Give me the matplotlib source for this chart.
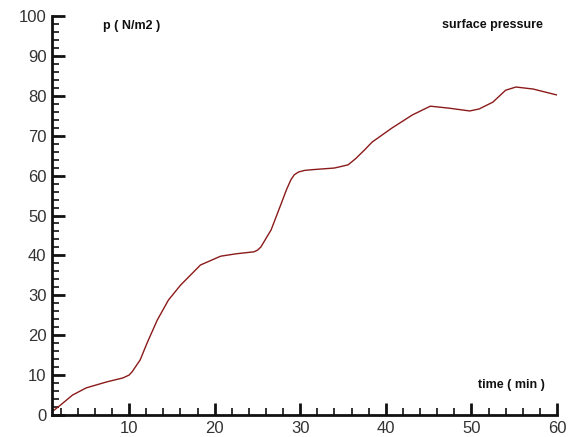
import matplotlib
matplotlib.use("Agg")
import matplotlib.pyplot as plt
from matplotlib.ticker import MultipleLocator

time_min = [1.0, 2.0, 3.4, 5.0, 7.4, 9.3, 10.0, 10.35, 11.3, 12.1, 13.3, 14.6, 16.0, 18.35,
            20.7, 22.5, 24.6, 25.0, 25.4, 26.6, 27.8, 28.4, 28.9, 29.3, 29.8, 30.5, 31.5,
            34.0, 35.6, 36.5, 37.5, 38.4, 40.7, 43.1, 45.2, 47.4, 49.8, 50.9, 52.5, 54.0,
            55.2, 57.2, 60.0]
pressure = [0.8, 2.5, 5.0, 6.8, 8.3, 9.3, 10.0, 10.8, 13.8, 18.0, 23.8, 28.8, 32.5, 37.6,
            39.8, 40.4, 40.9, 41.3, 42.1, 46.4, 53.1, 56.5, 58.9, 60.2, 60.9, 61.3, 61.5,
            61.9, 62.7, 64.3, 66.4, 68.4, 71.9, 75.2, 77.4, 76.9, 76.2, 76.7, 78.4, 81.4,
            82.2, 81.7, 80.2]

fig = plt.figure(figsize=(5.69, 4.37), dpi=100)
ax = fig.add_axes([52/569, (437-415)/437, (557-52)/569, (415-16)/437])
ax.plot(time_min, pressure, color="#8b1a1a", linewidth=1.0)

ax.set_xlim(1, 60)
ax.set_ylim(0, 100)
ax.xaxis.set_major_locator(MultipleLocator(10))
ax.xaxis.set_minor_locator(MultipleLocator(2))
ax.yaxis.set_major_locator(MultipleLocator(10))
ax.yaxis.set_minor_locator(MultipleLocator(2))

for s in ["top", "right"]:
    ax.spines[s].set_visible(False)
for s in ["left", "bottom"]:
    ax.spines[s].set_linewidth(2.0)
    ax.spines[s].set_color("#111111")

lab_font = dict(family="Liberation Sans", size=12, color="#333333")
ax.tick_params(which="major", direction="in", length=9, width=2, color="#111111", pad=4)
ax.tick_params(which="minor", direction="in", length=5, width=1.2, color="#111111")
ax.set_xticks([10, 20, 30, 40, 50, 60])
ax.set_xticklabels(["10", "20", "30", "40", "50", "60"], **lab_font)
ax.set_yticks(range(0, 101, 10))
ax.set_yticklabels([str(v) for v in range(0, 101, 10)], **lab_font)

txt = dict(family="Liberation Sans", weight="bold", size=9, color="#111111",
           transform=fig.transFigure, va="center")
fig.text(103/569, 1 - 26/437, "p ( N/m2 )", ha="left", **txt)
fig.text(543/569, 1 - 25/437, "surface pressure", ha="right", **txt)
fig.text(545/569, 1 - 385/437, "time ( min )", ha="right", **txt)

fig.savefig("out.png", dpi=100)
